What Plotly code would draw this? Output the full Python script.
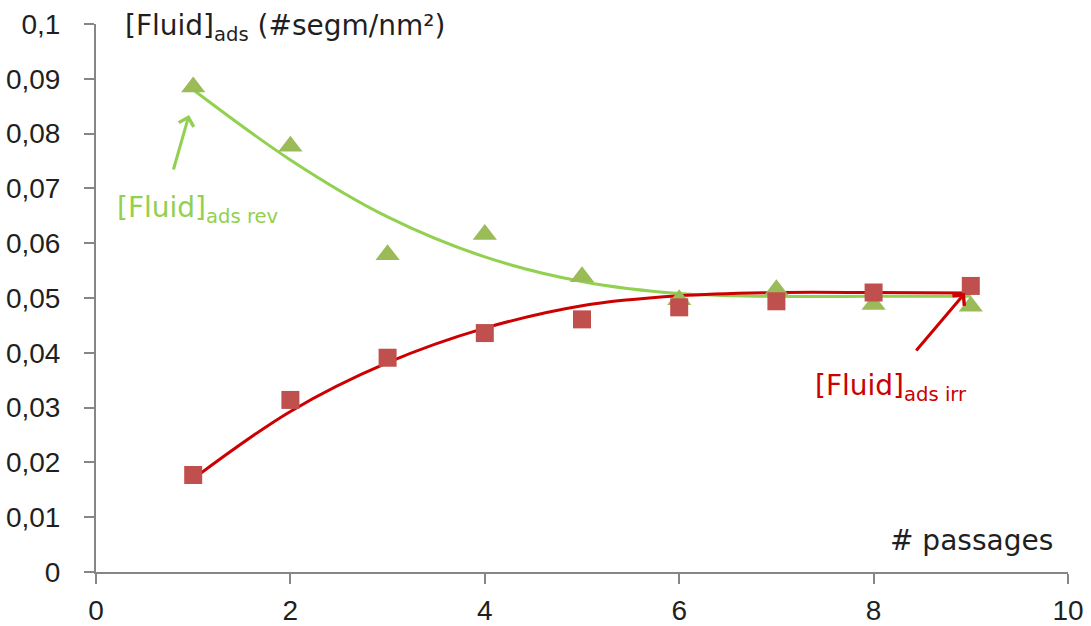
import plotly.graph_objects as go

passages = [1, 2, 3, 4, 5, 6, 7, 8, 9]
rev_values = [0.0885, 0.0777, 0.0579, 0.0616, 0.0539, 0.0497, 0.0515, 0.0488, 0.0485]
irr_values = [0.0177, 0.0314, 0.0391, 0.0436, 0.0461, 0.0483, 0.0494, 0.0510, 0.0522]
rev_trend = [0.0880, 0.0752, 0.0648, 0.0575, 0.0530, 0.0508, 0.0503, 0.0503, 0.0503]
irr_trend = [0.0170, 0.0293, 0.0382, 0.0445, 0.0486, 0.0504, 0.0510, 0.0510, 0.0509]

GREEN_M = "#9BBB59"
RED_M = "#C0504D"
GREEN_L = "#92D050"
RED_L = "#CC0000"
AXIS = "#868686"
TXT = "#1F1F1F"

fig = go.Figure()
fig.add_trace(go.Scatter(x=passages, y=rev_trend, mode="lines",
                         line=dict(color=GREEN_L, width=3, shape="spline", smoothing=1.0),
                         showlegend=False))
fig.add_trace(go.Scatter(x=passages, y=irr_trend, mode="lines",
                         line=dict(color=RED_L, width=3, shape="spline", smoothing=1.0),
                         showlegend=False))
fig.add_trace(go.Scatter(x=passages, y=rev_values, mode="markers",
                         marker=dict(symbol="triangle-up", size=21, color=GREEN_M),
                         showlegend=False))
fig.add_trace(go.Scatter(x=passages, y=irr_values, mode="markers",
                         marker=dict(symbol="square", size=18, color=RED_M),
                         showlegend=False))

tick_font = dict(family="Liberation Sans, Arial, sans-serif", size=28, color=TXT)
lab_font = "DejaVu Sans, Verdana, sans-serif"

fig.update_layout(
    width=1091, height=626,
    margin=dict(l=96, r=23, t=24, b=54, autoexpand=False),
    paper_bgcolor="white", plot_bgcolor="white",
    separators=", ",
    xaxis=dict(range=[0, 10], dtick=2, tick0=0, showgrid=False, zeroline=False,
               showline=True, linecolor=AXIS, linewidth=2, automargin=False,
               ticks="outside", ticklen=10, tickwidth=2, tickcolor=AXIS,
               tickfont=tick_font, ticklabelstandoff=2),
    yaxis=dict(range=[0, 0.1], dtick=0.01, tick0=0, showgrid=False, zeroline=False,
               showline=True, linecolor=AXIS, linewidth=2, automargin=False,
               ticks="outside", ticklen=10, tickwidth=2, tickcolor=AXIS,
               tickfont=tick_font, ticklabelstandoff=18),
)

anns = [
    dict(x=0.278, y=0.0993, xanchor="left", yanchor="middle",
         text="[Fluid]<sub>ads</sub> (#segm/nm²)", font=dict(family=lab_font, size=28, color=TXT)),
    dict(x=0.195, y=0.0661, xanchor="left", yanchor="middle",
         text="[Fluid]<sub>ads rev</sub>", font=dict(family=lab_font, size=28, color=GREEN_L)),
    dict(x=7.38, y=0.0336, xanchor="left", yanchor="middle",
         text="[Fluid]<sub>ads irr</sub>", font=dict(family=lab_font, size=28, color=RED_L)),
    dict(x=9.866, y=0.00584, xanchor="right", yanchor="middle",
         text="# passages", font=dict(family=lab_font, size=28, color=TXT)),
]
for a in anns:
    fig.add_annotation(xref="x", yref="y", showarrow=False, **a)

fig.add_annotation(xref="x", yref="y", x=0.957, y=0.0834, ax=-16, ay=56, text="",
                   showarrow=True, arrowhead=4, arrowsize=1.0, arrowwidth=3, arrowcolor=GREEN_L)
fig.add_annotation(xref="x", yref="y", x=8.94, y=0.0509, ax=-50, ay=59, text="",
                   showarrow=True, arrowhead=4, arrowsize=1.0, arrowwidth=3, arrowcolor=RED_L)

# remove the default 8px page margin so the figure fills the window exactly
fig.write_html("out.html",
               config={"displayModeBar": False},
               post_script="document.body.style.margin='0';document.body.style.padding='0';"
                           "document.body.style.overflow='hidden';")
